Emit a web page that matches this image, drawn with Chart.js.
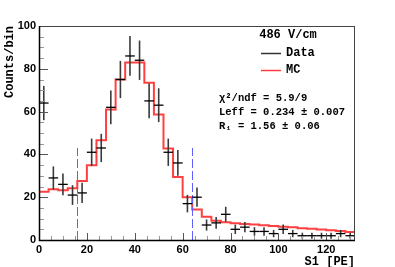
<!DOCTYPE html>
<html><head><meta charset="utf-8">
<script src="https://cdn.jsdelivr.net/npm/chart.js@4/dist/chart.umd.min.js"></script>
<style>html,body{margin:0;padding:0;background:#fff}#wrap{width:395px;height:267px}</style>
</head><body><div id="wrap"><canvas id="c" width="395" height="267"></canvas></div>
<script>
// ---- data ----
const binCenters = [2,6,10,14,18,22,26,30,34,38,42,46,50,54,58,62,66,70,74,78,82,86,90,94,98,102,106,110,114,118,122,126,130];
const dataCounts = [64,29,26,21,22,41,43,62,75,86,84,65,63,41,36,17,20,7,8,12,5,6,4,4,3,5,3,2,2,2,2,3,2];
const dataErrors = [8,5.4,5.1,4.6,4.7,6.4,6.6,7.9,8.7,9.3,9.2,8.1,7.9,6.4,6,4.1,4.5,2.6,2.8,3.5,2.2,2.4,2,2,1.7,2.2,1.7,1.4,1.4,1.4,1.4,1.7,1.4];
const binHalfWidth = 2;
const mcEdges = [0,4,8,12,16,20,24,28,32,36,40,44,48,52,56,60,64,68,72,76,80,84,88,92,96,100,104,108,112,116,120,124,128,132];
const mcValues = [22.6,23.7,23.2,24.2,27.6,34.9,46.6,61,75,83,83,73.5,58.7,42.8,29.4,20,14.3,10.9,9.0,8.3,7.8,7.5,7.2,6.9,6.6,6.2,5.9,5.5,5.2,4.9,4.6,4.2,3.7];
const cutLines = [16,64];
const cutLineTop = 43;
const xTicks = [0,20,40,60,80,100,120];
const yTicks = [0,20,40,60,80,100];
const minorStep = 5;
const legendTitle = "486 V/cm";
const legendLabels = ["Data","MC"];
const statLines = ["χ²/ndf = 5.9/9","Leff = 0.234 ± 0.007","R₁ = 1.56 ± 0.06"];

const mcPoints = mcEdges.map((e,i)=>({x:e,y:mcValues[Math.min(i,mcValues.length-1)]}));
const dataPoints = binCenters.map((c,i)=>({x:c,y:dataCounts[i]}));

const rootPlugin = {
  id:'rootStyle',
  afterDatasetsDraw(chart){
    const ctx=chart.ctx, xs=chart.scales.x, ys=chart.scales.y, a=chart.chartArea;
    ctx.save();
    // cut lines
    ctx.strokeStyle='#6060ff'; ctx.lineWidth=1; ctx.setLineDash([9,3]);
    cutLines.forEach(v=>{const px=Math.round(xs.getPixelForValue(v))+0.5;
      ctx.beginPath();ctx.moveTo(px,ys.getPixelForValue(0));ctx.lineTo(px,ys.getPixelForValue(cutLineTop));ctx.stroke();});
    ctx.setLineDash([]);
    // data error bars
    dataPoints.forEach((p,i)=>{
      const px=xs.getPixelForValue(p.x), py=ys.getPixelForValue(p.y);
      ctx.strokeStyle='#3a3a3a'; ctx.lineWidth=1.6;
      ctx.beginPath();ctx.moveTo(px,ys.getPixelForValue(p.y+dataErrors[i]));ctx.lineTo(px,ys.getPixelForValue(Math.max(0,p.y-dataErrors[i])));ctx.stroke();
      ctx.strokeStyle='#000'; ctx.lineWidth=1.3;
      ctx.beginPath();ctx.moveTo(xs.getPixelForValue(p.x-binHalfWidth),py);ctx.lineTo(xs.getPixelForValue(p.x+binHalfWidth),py);ctx.stroke();
    });
    // ticks
    ctx.lineWidth=1;
    for(let v=0; v<=132; v+=minorStep){
      const major = xTicks.includes(v);
      const px=Math.round(xs.getPixelForValue(v))+0.5;
      ctx.strokeStyle=major?'#555':'#999';
      ctx.beginPath();ctx.moveTo(px,a.bottom);ctx.lineTo(px,a.bottom-(major?7:4));ctx.stroke();
    }
    for(let v=0; v<=100; v+=minorStep){
      const major = yTicks.includes(v);
      const py=Math.round(ys.getPixelForValue(v))+0.5;
      ctx.strokeStyle=major?'#555':'#999';
      ctx.beginPath();ctx.moveTo(a.left,py);ctx.lineTo(a.left+(major?9:5),py);ctx.stroke();
    }
    // frame
    ctx.strokeStyle='#444'; ctx.lineWidth=1;
    ctx.strokeRect(Math.round(a.left)+0.5,Math.round(a.top)+0.5,Math.round(a.right-a.left)-1,Math.round(a.bottom-a.top));
    ctx.strokeStyle='#000'; ctx.lineWidth=1.5;
    ctx.beginPath();ctx.moveTo(a.left+0.5,a.top);ctx.lineTo(a.left+0.5,a.bottom+0.5);ctx.lineTo(a.right,a.bottom+0.5);ctx.stroke();
    // legend
    ctx.fillStyle='#000'; ctx.textBaseline='middle';
    ctx.font='bold 12px "Liberation Mono", monospace';
    ctx.textAlign='center'; ctx.fillText(legendTitle,288,35);
    ctx.textAlign='left';
    ctx.fillText(legendLabels[0],286,53);
    ctx.fillText(legendLabels[1],286,70);
    ctx.lineWidth=1.5; ctx.strokeStyle='#333';
    ctx.beginPath();ctx.moveTo(261,53.5);ctx.lineTo(281,53.5);ctx.stroke();
    ctx.strokeStyle='rgba(255,40,40,0.9)';
    ctx.beginPath();ctx.moveTo(261,70.5);ctx.lineTo(281,70.5);ctx.stroke();
    ctx.font='bold 10.5px "Liberation Mono", monospace';
    statLines.forEach((t,i)=>ctx.fillText(t,219,98+i*14));
    ctx.restore();
  }
};

new Chart(document.getElementById('c'),{
  type:'line',
  data:{datasets:[
    {label:'MC',data:mcPoints,stepped:'before',borderColor:'rgba(255,30,30,0.85)',borderWidth:2,pointRadius:0,fill:false},
    {label:'Data',data:dataPoints,showLine:false,pointRadius:0,borderColor:'#000'}
  ]},
  options:{
    responsive:false,animation:false,
    layout:{padding:{top:26,right:40,left:0,bottom:0}},
    plugins:{legend:{display:false},tooltip:{enabled:false}},
    scales:{
      x:{type:'linear',min:0,max:132,
        afterBuildTicks:s=>{s.ticks=xTicks.map(v=>({value:v}));},
        afterFit:s=>{s.height=27;},
        grid:{display:false,drawTicks:false},border:{display:false},
        ticks:{padding:3,color:'#000',font:{family:'"Liberation Sans", Arial, sans-serif',weight:'bold',size:11},maxRotation:0},
        title:{display:true,text:'S1 [PE]',align:'end',color:'#000',padding:{top:0,bottom:-2},font:{family:'"Liberation Mono", monospace',weight:'bold',size:12}}
      },
      y:{type:'linear',min:0,max:100,
        afterBuildTicks:s=>{s.ticks=yTicks.map(v=>({value:v}));},
        afterFit:s=>{s.width=39;},
        grid:{display:false,drawTicks:false},border:{display:false},
        ticks:{padding:3,color:'#000',font:{family:'"Liberation Sans", Arial, sans-serif',weight:'bold',size:11}},
        title:{display:true,text:'Counts/bin',align:'end',color:'#000',padding:{top:3,bottom:0},font:{family:'"Liberation Mono", monospace',weight:'bold',size:12}}
      }
    }
  },
  plugins:[rootPlugin]
});
</script></body></html>
